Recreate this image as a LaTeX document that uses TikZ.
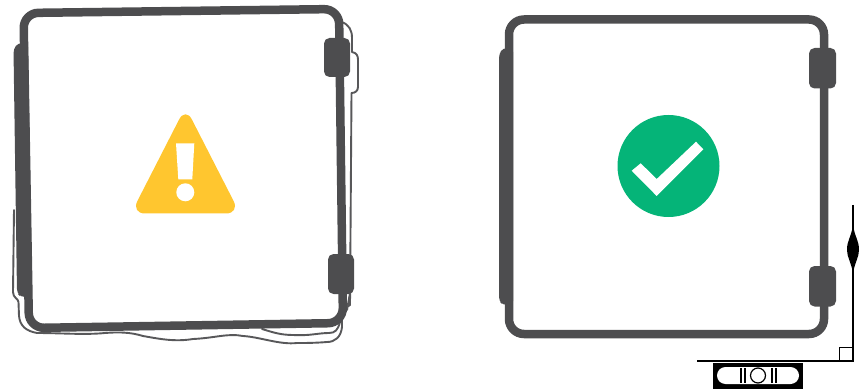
\documentclass[tikz,border=0pt]{standalone}
\usepackage{xcolor}
\usepackage{tikz}
\definecolor{doorgray}{RGB}{77,77,79}
\definecolor{sketchgray}{RGB}{88,88,90}
\definecolor{warnfill}{RGB}{255,198,47}
\definecolor{okfill}{RGB}{5,180,120}
\tikzset{
  door/.style={draw=doorgray, line width=8.5pt, rounded corners=15pt},
  sketch/.style={draw=sketchgray, line width=1.9pt, line join=round, line cap=round},
  hinge/.style={fill=doorgray, rounded corners=5.5pt},
  ink/.style={draw=black, line width=1.3pt},
}
\begin{document}
\begin{tikzpicture}[x=1pt,y=-1pt]
\useasboundingbox (0,0) rectangle (867,390);
% sketched outline behind the left door
\draw[sketch] (342,22) .. controls (349,25) and (352,30) .. (352,38) -- (352,52)
  .. controls (357,53) and (358,56) .. (358,60) -- (358,87)
  .. controls (358,91) and (355,93) .. (351.5,93) -- (350,305)
  .. controls (345,308) and (342,310) .. (342,314) -- (342,327)
  .. controls (341,337) and (335,342) .. (327,342)
  .. controls (315,343) and (305,343) .. (297,343)
  .. controls (280,345) and (260,337) .. (243,336)
  .. controls (228,333) and (215,338) .. (193,339)
  .. controls (175,342) and (160,339) .. (143,336)
  .. controls (130,332) and (118,332) .. (105,333)
  .. controls (85,335) and (60,333) .. (37,333)
  .. controls (26,331) and (20,326) .. (19,316) -- (18.5,302)
  .. controls (18,298) and (13,298) .. (13,292) -- (14,210);
\draw[sketch] (340,322) .. controls (338,330) and (335,333) .. (329,333)
  .. controls (318,333) and (310,336) .. (293,335)
  .. controls (280,335) and (272,332) .. (262,329);
\draw[sketch] (350,293) -- (347,310);
% left door
\fill[hinge, rounded corners=4pt] (13.5,49) -- (18,43) -- (28,43) -- (32,297) -- (21,297) -- (17,293) -- cycle;
\draw[door] (23.5,13) -- (339,9) -- (343,323) -- (29,328) -- cycle;
\fill[hinge] (324,38) rectangle (350,77);
\fill[hinge] (328,254) rectangle (354,294);
% warning sign
\fill[warnfill, rounded corners=14pt] (185.5,107) -- (240,213.5) -- (131,213.5) -- cycle;
\fill[white] (176,143.3) -- (194.3,143.3) -- (192.3,179.3) -- (178.3,179.3) -- cycle;
\fill[white] (185.3,192.3) circle (9);
% right door
\fill[hinge, rounded corners=4pt] (499,54) -- (503,48) -- (513,48) -- (513,305) -- (503,305) -- (499,301) -- cycle;
\draw[door] (509,19.5) rectangle (824,334);
\foreach \y in {48,266} \fill[hinge] (809,\y) rectangle (836,\y+40.5);
% check mark
\fill[okfill] (668.5,166) circle (51);
\fill[white] (631.7,170.7) -- (640.7,163.3) -- (656.7,179) -- (696,141.7) -- (703.3,149.3) -- (656.7,196) -- cycle;
% plumb line and level
\draw[ink] (853,205) -- (853,361) -- (697,361);
\draw[ink, fill=white] (839.5,347.5) rectangle (853,361);
\fill[black] (853,225) .. controls (855,238) and (859,240) .. (859,250)
  .. controls (859,257) and (855,262) .. (853,273)
  .. controls (851,262) and (847,257) .. (847,250)
  .. controls (847,240) and (851,238) .. (853,225) -- cycle;
\fill[black] (713,363) rectangle (803,388.5);
\fill[white, rounded corners=8.5pt] (717,367) rectangle (799,384);
\foreach \x in {741,745,772,776} \draw[black, line width=1.1pt] (\x,368) -- (\x,383);
\draw[black, line width=1.2pt] (758,375.5) circle (7.5);
\end{tikzpicture}
\end{document}
